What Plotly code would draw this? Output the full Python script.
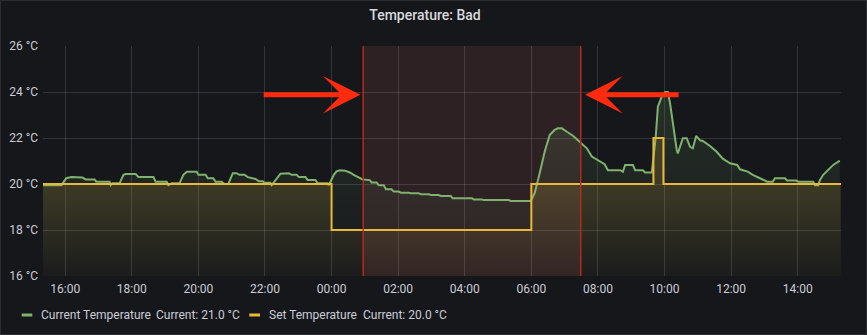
import plotly.graph_objects as go

DAY1 = "2023-03-14"
DAY2 = "2023-03-15"

# Current temperature (°C)
cur_times_day1 = ["15:20", "15:53", "16:02", "16:11", "16:31", "16:37", "16:53", "16:56", "17:20", "17:22",
                  "17:25", "17:38", "17:45", "17:49", "18:07", "18:12", "18:39", "18:43", "19:03", "19:06",
                  "19:12", "19:26", "19:33", "19:39", "19:57", "20:00", "20:13", "20:17", "20:27", "20:31",
                  "20:42", "20:47", "20:54", "21:02", "21:09", "21:14", "21:23", "21:29", "21:43", "21:49",
                  "21:56", "21:59", "22:10", "22:12", "22:17", "22:23", "22:28", "22:43", "22:48", "22:57",
                  "23:01", "23:13", "23:17", "23:31", "23:35", "23:53", "23:55", "23:58"]
cur_vals_day1 = [19.95, 19.95, 20.25, 20.3, 20.28, 20.2, 20.2, 20.1, 20.1, 19.95,
                 20.03, 20.03, 20.4, 20.43, 20.43, 20.3, 20.3, 20.1, 20.1, 19.95,
                 20.03, 20.03, 20.4, 20.53, 20.53, 20.4, 20.4, 20.25, 20.25, 20.1,
                 20.1, 20.0, 20.0, 20.47, 20.47, 20.4, 20.4, 20.3, 20.22, 20.12,
                 20.12, 20.05, 20.05, 19.95, 20.1, 20.3, 20.45, 20.47, 20.4, 20.4,
                 20.3, 20.3, 20.17, 20.17, 20.03, 20.03, 19.95, 20.1]
cur_times_day2 = ["00:04", "00:09", "00:15", "00:24", "00:33", "00:40", "00:47", "00:56", "01:09", "01:12",
                  "01:21", "01:25", "01:34", "01:38", "01:48", "01:52", "02:01", "02:05", "02:19", "02:23",
                  "02:37", "02:41", "02:55", "02:59", "03:13", "03:17", "03:35", "03:38", "04:13", "04:16",
                  "04:31", "04:34", "05:19", "05:23", "05:59", "06:06", "06:15", "06:24", "06:33", "06:42",
                  "06:48", "06:55", "07:04", "07:15", "07:27", "07:40", "07:49", "08:03", "08:12", "08:18",
                  "08:40", "08:45", "08:49", "09:03", "09:07", "09:21", "09:25", "09:37", "09:39", "09:44",
                  "09:48", "09:55", "10:01", "10:06", "10:10", "10:15", "10:22", "10:24", "10:33", "10:40",
                  "10:46", "10:51", "10:57", "11:04", "11:09", "11:22", "11:34", "11:45", "11:58", "12:11",
                  "12:16", "12:30", "12:39", "12:52", "13:05", "13:15", "13:19", "13:37", "13:41", "13:57",
                  "14:01", "14:28", "14:31", "14:37", "14:40", "14:46", "14:55", "15:04", "15:13", "15:16"]
cur_vals_day2 = [20.4, 20.55, 20.6, 20.58, 20.5, 20.4, 20.3, 20.2, 20.17, 20.07,
                 20.07, 19.95, 19.95, 19.77, 19.77, 19.67, 19.67, 19.62, 19.62, 19.6,
                 19.6, 19.55, 19.55, 19.52, 19.52, 19.48, 19.48, 19.38, 19.38, 19.33,
                 19.33, 19.3, 19.3, 19.26, 19.26, 19.6, 20.47, 21.4, 22.13, 22.35,
                 22.42, 22.42, 22.27, 22.1, 21.84, 21.55, 21.19, 20.97, 20.86, 20.6,
                 20.6, 20.53, 20.83, 20.83, 20.6, 20.6, 20.5, 20.5, 21.0, 22.0,
                 23.36, 23.8, 24.0, 24.0, 23.5, 22.64, 21.48, 21.33, 21.99, 21.99,
                 21.62, 21.55, 22.09, 21.9, 21.87, 21.65, 21.4, 21.1, 20.9, 20.83,
                 20.64, 20.54, 20.4, 20.25, 20.1, 20.1, 20.25, 20.25, 20.15, 20.15,
                 20.1, 20.1, 19.95, 19.95, 20.17, 20.4, 20.6, 20.83, 20.97, 21.0]

# Set temperature (°C), stepped
set_times = [DAY1 + " 15:20", DAY2 + " 00:00", DAY2 + " 06:00", DAY2 + " 09:40", DAY2 + " 09:58", DAY2 + " 15:18"]
set_vals = [20, 18, 20, 22, 20, 20]

series_names = ["Current Temperature", "Set Temperature"]
legend_values = ["Current: 21.0 °C", "Current: 20.0 °C"]

y_ticks = [16, 18, 20, 22, 24, 26]
y_tick_labels = [f"{v} °C" for v in y_ticks]
x_range = [DAY1 + " 15:20", DAY2 + " 15:18"]
region = [DAY2 + " 00:57", DAY2 + " 07:29"]
arrow_left = dict(tail=DAY1 + " 21:55", tip=DAY2 + " 00:52", y=23.88)
arrow_right = dict(tail=DAY2 + " 10:28", tip=DAY2 + " 07:37", y=23.88)

cur_x = [f"{DAY1} {t}" for t in cur_times_day1] + [f"{DAY2} {t}" for t in cur_times_day2]
cur_y = cur_vals_day1 + cur_vals_day2

GREEN = "#7EB26D"
YELLOW = "#EAB839"
BG = "#15171b"
TXT = "rgb(204,204,214)"
FONT = "Roboto"

W, H = 867, 335
ML, MR, MT, MB = 43, 26, 46, 59
PW, PH = W - ML - MR, H - MT - MB


def px_x(p):
    return (p - ML) / PW


def px_y(p):
    return (H - MB - p) / PH


fig = go.Figure()
fig.add_trace(go.Scatter(
    x=cur_x, y=cur_y, mode="lines", name=series_names[0],
    line=dict(color=GREEN, width=2),
    fill="tozeroy",
    fillgradient=dict(type="vertical", start=16, stop=24,
                      colorscale=[[0, "rgba(126,178,109,0.0)"], [1, "rgba(126,178,109,0.17)"]]),
    showlegend=False, hoverinfo="skip",
))
fig.add_trace(go.Scatter(
    x=set_times, y=set_vals, mode="lines", name=series_names[1],
    line=dict(color=YELLOW, width=2, shape="hv"),
    fill="tozeroy",
    fillgradient=dict(type="vertical", start=16, stop=20,
                      colorscale=[[0, "rgba(234,184,57,0.03)"], [1, "rgba(234,184,57,0.15)"]]),
    showlegend=False, hoverinfo="skip",
))

shapes = [
    dict(type="rect", xref="x", yref="paper", x0=region[0], x1=region[1], y0=0, y1=1,
         fillcolor="rgba(188,96,94,0.15)", line=dict(width=0), layer="below"),
    dict(type="line", xref="x", yref="paper", x0=region[0], x1=region[0], y0=0, y1=1,
         line=dict(color="#b8281c", width=1.5)),
    dict(type="line", xref="x", yref="paper", x0=region[1], x1=region[1], y0=0, y1=1,
         line=dict(color="#b8281c", width=1.5)),
    # panel border
    dict(type="rect", xref="paper", yref="paper", x0=px_x(0.5), x1=px_x(W - 0.5),
         y0=px_y(H - 0.5), y1=px_y(0.5), line=dict(color="rgba(204,204,220,0.12)", width=1),
         fillcolor="rgba(0,0,0,0)"),
]

annotations = []
# legend
legend_y = px_y(315)
sw = [(21.7, 32.3), (249.3, 260.0)]
name_px = [39.3, 267.3]
val_px = [154.3, 361.0]
colors = [GREEN, YELLOW]
for i in range(2):
    shapes.append(dict(type="line", xref="paper", yref="paper", x0=px_x(sw[i][0]), x1=px_x(sw[i][1]),
                       y0=legend_y, y1=legend_y, line=dict(color=colors[i], width=3)))
    annotations.append(dict(xref="paper", yref="paper", x=px_x(name_px[i]), y=legend_y, xanchor="left",
                            yanchor="middle", text=series_names[i], showarrow=False,
                            font=dict(family=FONT, size=12, color=TXT)))
    annotations.append(dict(xref="paper", yref="paper", x=px_x(val_px[i]), y=legend_y, xanchor="left",
                            yanchor="middle", text=legend_values[i], showarrow=False,
                            font=dict(family=FONT, size=12, color=TXT)))

for a in (arrow_left, arrow_right):
    annotations.append(dict(x=a["tip"], y=a["y"], ax=a["tail"], ay=a["y"], xref="x", yref="y",
                            axref="x", ayref="y", text="", showarrow=True, arrowhead=3,
                            arrowsize=1.25, arrowwidth=5, arrowcolor="#ff2b0e", standoff=0))

fig.update_layout(
    width=W, height=H,
    margin=dict(l=ML, r=MR, t=MT, b=MB, autoexpand=False),
    paper_bgcolor=BG, plot_bgcolor=BG,
    font=dict(family=FONT, size=12, color=TXT),
    title=dict(text="Temperature: Bad", x=425 / W, xanchor="center", xref="container",
               y=1 - 15 / H, yanchor="middle", yref="container",
               font=dict(family=FONT, size=14, color="rgb(216,217,222)", weight=500)),
    xaxis=dict(type="date", range=x_range, tickformat="%H:%M", dtick=7200000,
               tick0=DAY2 + " 00:00", showgrid=True, gridcolor="rgba(204,204,220,0.16)",
               gridwidth=1, zeroline=False, showline=False, ticks="", ticklabelstandoff=4,
               automargin=False,
               tickfont=dict(family=FONT, size=12, color=TXT), fixedrange=True),
    yaxis=dict(range=[16, 26], tickmode="array", tickvals=y_ticks, ticktext=y_tick_labels,
               showgrid=True, gridcolor="rgba(204,204,220,0.16)", gridwidth=1, zeroline=False,
               showline=False, ticks="", ticklabelstandoff=4, automargin=False,
               tickfont=dict(family=FONT, size=12, color=TXT), fixedrange=True),
    shapes=shapes,
    annotations=annotations,
    showlegend=False,
    hovermode=False,
)

fig.write_html("out.html")
